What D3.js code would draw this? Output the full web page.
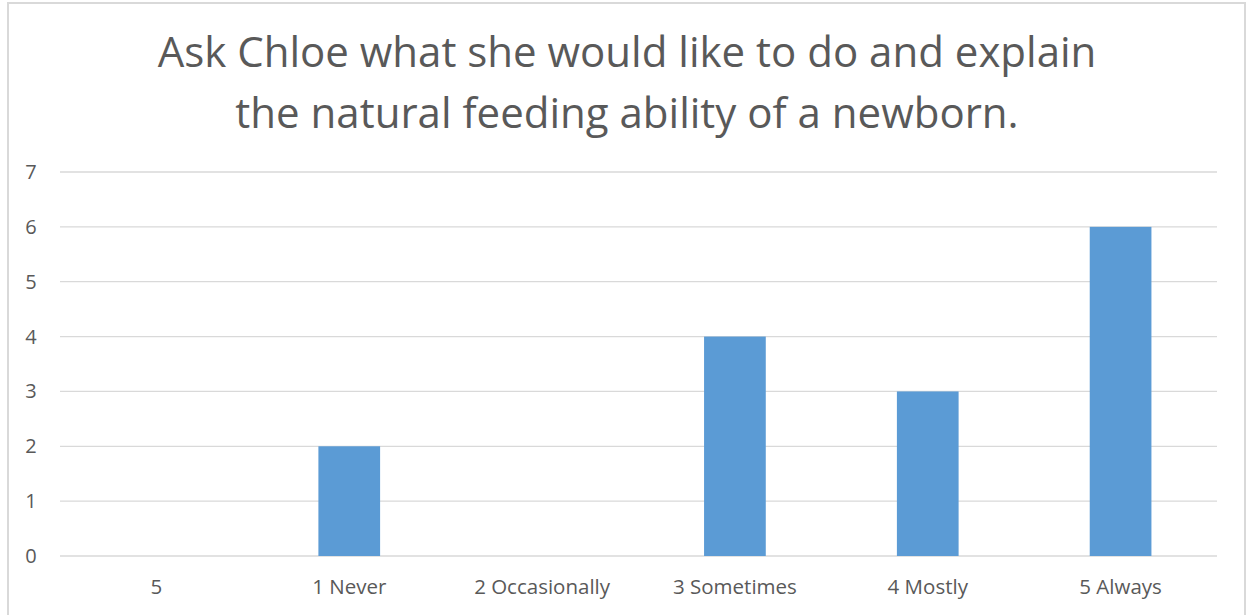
<!DOCTYPE html>
<html><head><meta charset="utf-8">
<script src="https://cdn.jsdelivr.net/npm/d3@7"></script>
<style>html,body{margin:0;padding:0;background:#fff;overflow:hidden}</style>
</head><body>
<svg id="c" width="1252" height="615"></svg>
<script>
const titleLines = ["Ask Chloe what she would like to do and explain", "the natural feeding ability of a newborn."];
const categories = ["5", "1 Never", "2 Occasionally", "3 Sometimes", "4 Mostly", "5 Always"];
const values = [0, 2, 0, 4, 3, 6];
const yTicks = [0, 1, 2, 3, 4, 5, 6, 7];

const svg = d3.select("#c");
const font = "'Open Sans', 'Liberation Sans', sans-serif";
const textColor = "#595959";

// chart border
svg.append("rect").attr("x", 8).attr("y", 3).attr("width", 1237).attr("height", 640)
  .attr("fill", "#fff").attr("stroke", "#d9d9d9").attr("stroke-width", 2);

const m = {left: 60, right: 1217, top: 172, bottom: 556};
const x = d3.scaleBand().domain(categories).range([m.left, m.right]).paddingInner(0.68).paddingOuter(0.34);
const y = d3.scaleLinear().domain([0, 7]).range([m.bottom, m.top]);

// gridlines
svg.append("g").selectAll("line").data(yTicks).join("line")
  .attr("x1", m.left).attr("x2", m.right)
  .attr("y1", d => y(d)).attr("y2", d => y(d))
  .attr("stroke", "#d9d9d9").attr("stroke-width", 1.3);

// y labels
svg.append("g").selectAll("text").data(yTicks).join("text")
  .attr("x", 31).attr("y", d => y(d)).attr("dy", "0.35em")
  .attr("text-anchor", "middle").attr("font-family", font).attr("font-size", 20)
  .attr("fill", textColor).text(d => d);

// bars
svg.append("g").selectAll("rect").data(categories.map((c, i) => ({c, v: values[i]}))).join("rect")
  .attr("x", d => x(d.c)).attr("width", x.bandwidth())
  .attr("y", d => y(d.v)).attr("height", d => y(0) - y(d.v))
  .attr("fill", "#5b9bd5");

// x labels
svg.append("g").selectAll("text").data(categories).join("text")
  .attr("x", d => x(d) + x.bandwidth() / 2).attr("y", 587)
  .attr("dy", "0.35em").attr("text-anchor", "middle")
  .attr("font-family", font).attr("font-size", 20.5).attr("fill", textColor).text(d => d);

// title
svg.append("g").selectAll("text").data(titleLines).join("text")
  .attr("x", 627).attr("y", (d, i) => 52 + i * 61).attr("dy", "0.35em")
  .attr("text-anchor", "middle").attr("font-family", font).attr("font-size", 42)
  .attr("fill", textColor).text(d => d);
</script>
</body></html>
